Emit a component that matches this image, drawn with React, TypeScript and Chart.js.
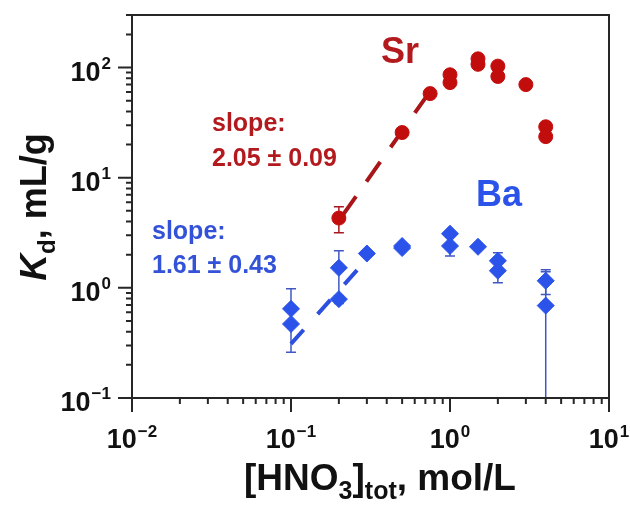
import React, { useEffect, useRef } from 'react';
import { Chart, registerables } from 'chart.js';
Chart.register(...registerables);

// ---- data ----
const srX = [0.2, 0.5, 0.75, 1, 1, 1.5, 1.5, 2, 2, 3, 4, 4];
const srY = [4.3, 25.7, 58, 86, 73, 120, 107, 103, 83, 70, 29, 23.6];
const srErrLo = [3.16, 25.7, 58, 86, 73, 120, 107, 103, 83, 70, 29, 23.6];
const srErrHi = [5.45, 25.7, 58, 86, 73, 120, 107, 103, 83, 70, 29, 23.6];

const baX = [0.1, 0.1, 0.2, 0.2, 0.3, 0.5, 0.5, 1, 1, 1.5, 2, 2, 4, 4];
const baY = [0.645, 0.47, 1.52, 0.79, 2.05, 2.4, 2.3, 3.1, 2.4, 2.36, 1.76, 1.43, 1.16, 0.69];
const baErrLo = [0.645, 0.26, 0.79, 0.72, 1.97, 2.4, 2.2, 3.1, 1.95, 2.36, 1.76, 1.11, 0.87, 0.05];
const baErrHi = [0.98, 0.47, 2.17, 0.85, 2.13, 2.52, 2.3, 3.2, 2.4, 2.36, 2.08, 1.43, 1.46, 1.4];

const srFitX = [0.21, 0.75];
const srFitY = [4.5, 61];
const baFitX = [0.1, 0.3];
const baFitY = [0.31, 1.82];

const xMajor = [0.01, 0.1, 1, 10];
const xMajorLabels = ['\u22122', '\u22121', '0', '1'];
const yMajor = [0.1, 1, 10, 100];
const yMajorLabels = ['\u22121', '0', '1', '2'];

const SR_RED = '#c20d0d';
const SR_TEXT = '#b31a1e';
const BA_BLUE = '#2b53ea';
const BA_TEXT = '#3352d8';
const AXIS = '#262626';
const FONT = '"Liberation Sans", Arial, sans-serif';

function minorTicks(min: number, max: number): number[] {
  const out: number[] = [];
  for (let e = Math.floor(Math.log10(min)); e <= Math.ceil(Math.log10(max)); e++) {
    for (let m = 2; m <= 9; m++) {
      const v = m * Math.pow(10, e);
      if (v > min * 1.0001 && v < max * 1.0001) out.push(v);
    }
  }
  return out;
}

const decorPlugin = {
  id: 'decor',
  beforeDatasetsDraw(chart: any) {
    const { ctx, chartArea: a, scales } = chart;
    const xs = scales.x, ys = scales.y;
    ctx.save();
    ctx.beginPath();
    ctx.rect(a.left, a.top, a.right - a.left, a.bottom - a.top);
    ctx.clip();
    const bars = (X: number[], lo: number[], hi: number[], Y: number[], color: string) => {
      ctx.strokeStyle = color;
      ctx.lineWidth = 1.5;
      X.forEach((xv, i) => {
        const px = xs.getPixelForValue(xv);
        const yl = lo[i] > 0.1 ? ys.getPixelForValue(lo[i]) : a.bottom + 5;
        const yh = ys.getPixelForValue(hi[i]);
        const y0 = ys.getPixelForValue(Y[i]);
        ctx.beginPath();
        if (lo[i] !== Y[i]) {
          ctx.moveTo(px, y0); ctx.lineTo(px, yl);
          if (lo[i] > 0.1) { ctx.moveTo(px - 5, yl); ctx.lineTo(px + 5, yl); }
        }
        if (hi[i] !== Y[i]) {
          ctx.moveTo(px, y0); ctx.lineTo(px, yh);
          ctx.moveTo(px - 5, yh); ctx.lineTo(px + 5, yh);
        }
        ctx.stroke();
      });
    };
    bars(baX, baErrLo, baErrHi, baY, '#3f58c4');
    bars(srX, srErrLo, srErrHi, srY, '#a8191c');
    ctx.restore();
  },
  afterDraw(chart: any) {
    const { ctx, chartArea: a, scales } = chart;
    const xs = scales.x, ys = scales.y;
    ctx.save();
    // frame
    ctx.strokeStyle = AXIS;
    ctx.lineWidth = 2;
    ctx.strokeRect(a.left, a.top, a.right - a.left, a.bottom - a.top);
    // ticks
    ctx.beginPath();
    xMajor.forEach(v => { const p = xs.getPixelForValue(v); ctx.moveTo(p, a.bottom); ctx.lineTo(p, a.bottom + 14); });
    minorTicks(0.01, 10).forEach(v => { const p = xs.getPixelForValue(v); ctx.moveTo(p, a.bottom); ctx.lineTo(p, a.bottom + 6); });
    yMajor.forEach(v => { const p = ys.getPixelForValue(v); ctx.moveTo(a.left, p); ctx.lineTo(a.left - 14, p); });
    minorTicks(0.1, 300).forEach(v => { const p = ys.getPixelForValue(v); ctx.moveTo(a.left, p); ctx.lineTo(a.left - 6, p); });
    ctx.stroke();

    // tick labels
    ctx.fillStyle = '#111';
    ctx.textBaseline = 'alphabetic';
    ctx.textAlign = 'left';
    const mainF = `bold 27px ${FONT}`;
    const supF = `bold 17px ${FONT}`;
    const widthOf = (sup: string) => {
      ctx.font = mainF; const w1 = ctx.measureText('10').width;
      ctx.font = supF; const w2 = ctx.measureText(sup).width;
      return [w1, w2];
    };
    xMajor.forEach((v, i) => {
      const p = xs.getPixelForValue(v);
      const [w1, w2] = widthOf(xMajorLabels[i]);
      const x0 = p - (w1 + w2 + 1) / 2;
      ctx.font = mainF; ctx.fillText('10', x0, a.bottom + 50);
      ctx.font = supF; ctx.fillText(xMajorLabels[i], x0 + w1 + 1, a.bottom + 39);
    });
    yMajor.forEach((v, i) => {
      const p = ys.getPixelForValue(v);
      const [w1, w2] = widthOf(yMajorLabels[i]);
      const x0 = a.left - 21 - (w1 + w2 + 1);
      ctx.font = mainF; ctx.fillText('10', x0, p + 13);
      ctx.font = supF; ctx.fillText(yMajorLabels[i], x0 + w1 + 1, p + 1);
    });

    // x title: [HNO3]tot, mol/L
    {
      const big = `bold 37px ${FONT}`, sub = `bold 25px ${FONT}`;
      const parts: [string, string, number][] = [['[HNO', big, 0], ['3', sub, 9], [']', big, 0], ['tot', sub, 9], [', mol/L', big, 0]];
      let total = 0;
      parts.forEach(([t, f]) => { ctx.font = f; total += ctx.measureText(t).width; });
      let x = 380 - total / 2;
      const base = 490;
      parts.forEach(([t, f, dy]) => { ctx.font = f; ctx.fillText(t, x, base + dy); x += ctx.measureText(t).width; });
    }
    // y title: Kd, mL/g
    {
      ctx.save();
      ctx.translate(46, 207);
      ctx.rotate(-Math.PI / 2);
      const parts: [string, string, number][] = [['K', `italic bold 37px ${FONT}`, 0], ['d', `bold 24px ${FONT}`, 9], [', mL/g', `bold 36px ${FONT}`, 0]];
      let total = 0;
      parts.forEach(([t, f]) => { ctx.font = f; total += ctx.measureText(t).width; });
      let x = -total / 2;
      parts.forEach(([t, f, dy]) => { ctx.font = f; ctx.fillText(t, x, dy); x += ctx.measureText(t).width; });
      ctx.restore();
    }

    // annotations
    ctx.font = `bold 36px ${FONT}`;
    ctx.fillStyle = SR_TEXT;
    ctx.fillText('Sr', 381, 63);
    ctx.fillStyle = BA_BLUE;
    ctx.fillText('Ba', 476, 206);
    ctx.font = `bold 25px ${FONT}`;
    ctx.fillStyle = SR_TEXT;
    ctx.fillText('slope:', 212, 131);
    ctx.fillText('2.05 \u00b1 0.09', 212, 166);
    ctx.fillStyle = BA_TEXT;
    ctx.fillText('slope:', 152, 239);
    ctx.fillText('1.61 \u00b1 0.43', 152, 273);
    ctx.restore();
  },
};

export default function App() {
  const ref = useRef<HTMLCanvasElement>(null);
  useEffect(() => {
    const toPts = (X: number[], Y: number[]) => X.map((x, i) => ({ x, y: Y[i] }));
    const chart = new Chart(ref.current!, {
      type: 'scatter',
      data: {
        datasets: [
          {
            label: 'Sr', data: toPts(srX, srY), order: 1,
            pointStyle: 'circle', pointRadius: 7, backgroundColor: SR_RED, borderColor: SR_RED, borderWidth: 1,
          },
          {
            label: 'Ba', data: toPts(baX, baY), order: 1,
            pointStyle: 'rectRot', pointRadius: 8.5, backgroundColor: BA_BLUE, borderColor: BA_BLUE, borderWidth: 1,
          },
          {
            label: 'Sr fit', data: toPts(srFitX, srFitY), order: 2, showLine: true, pointRadius: 0,
            borderColor: '#a8161a', borderWidth: 4, borderDash: [24, 18],
          },
          {
            label: 'Ba fit', data: toPts(baFitX, baFitY), order: 2, showLine: true, pointRadius: 0,
            borderColor: '#2d4fe0', borderWidth: 4, borderDash: [19, 21],
          },
        ] as any,
      },
      options: {
        animation: false,
        responsive: true,
        maintainAspectRatio: false,
        layout: { padding: { left: 132, right: 21, top: 15, bottom: 113 } },
        plugins: { legend: { display: false }, tooltip: { enabled: false } },
        scales: {
          x: { type: 'logarithmic', min: 0.01, max: 10, display: false },
          y: { type: 'logarithmic', min: 0.1, max: 300, display: false },
        },
      },
      plugins: [decorPlugin],
    });
    return () => chart.destroy();
  }, []);
  return (
    <div style={{ position: 'fixed', left: 0, top: 0, width: 630, height: 511, background: '#fff' }}>
      <canvas ref={ref} />
    </div>
  );
}
